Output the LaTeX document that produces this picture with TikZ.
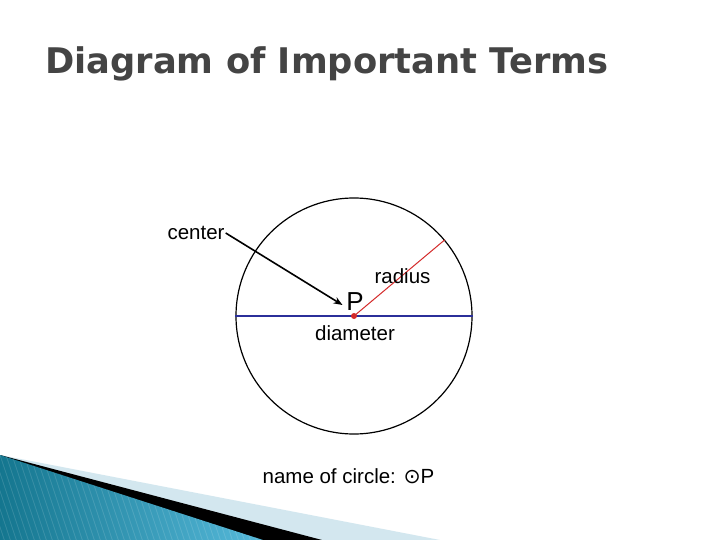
\documentclass[tikz,border=0pt]{standalone}
\usepackage{fontspec}
\setmainfont{Liberation Sans}
\newfontfamily\titlefont{DejaVu Sans Bold}
\newfontfamily\symfont{DejaVu Sans}
\usetikzlibrary{arrows.meta}
\definecolor{titlegray}{HTML}{444444}
\definecolor{bandlight}{HTML}{D3E7EF}
\definecolor{tealdark}{HTML}{14768F}
\definecolor{teallight}{HTML}{56B9DA}
\definecolor{diamblue}{HTML}{2B2F9A}
\definecolor{radred}{HTML}{D42A2A}
\tikzset{
  lbl/.style={inner sep=1pt, font=\fontsize{20.5}{24}\selectfont},
  diam/.style={draw=diamblue, line width=1.1pt},
  rad/.style={draw=radred, line width=1pt},
  pointer/.style={draw=black, line width=1.6pt, -{Stealth[length=9pt,width=7pt]}},
  stripe/.style={draw=white, draw opacity=0.12, line width=0.8pt},
}
\begin{document}
\begin{tikzpicture}[x=1pt,y=-1pt]
\useasboundingbox (0,0) rectangle (720,540);
\fill[white] (0,0) rectangle (720,540);
% bottom-left decoration
\fill[bandlight] (0,455) -- (440,540) -- (0,540) -- cycle;
\fill[black] (0,455) -- (322,540) -- (0,540) -- cycle;
\shade[left color=tealdark, right color=teallight] (0,455) -- (263,540) -- (0,540) -- cycle;
\begin{scope}
\clip (0,455) -- (263,540) -- (0,540) -- cycle;
\foreach \i in {-60,-54,...,270} {\draw[stripe] (\i,455) -- (\i+30,545);}
\end{scope}
% title
\node[anchor=base west, inner sep=0, text=titlegray, font=\titlefont\fontsize{35.3}{40}\selectfont] (title) at (45,74) {Diagram of Important Terms};
% circle
\node[circle, draw, minimum size=236pt, inner sep=0, line width=1.2pt] (c) at (354,316) {};
\coordinate (P) at (354,316);
\draw[diam] (c.west) -- (c.east);
\draw[rad] (P) -- (c.40);
\fill[radred] (P) circle (3pt);
\node[inner sep=0, font=\fontsize{26}{30}\selectfont] (Plabel) at (355,302) {P};
\node[lbl] (radius) at (402.5,276) {radius};
\node[lbl] (diameter) at (355,333) {diameter};
\node[lbl] (center) at (196,233) {center};
\coordinate (ctip) at (342.5,305);
\draw[pointer] (center.east) -- (ctip);
\node[lbl] (name) at (348.5,476) {name of circle: {\symfont ⊙}P};
\end{tikzpicture}
\end{document}
